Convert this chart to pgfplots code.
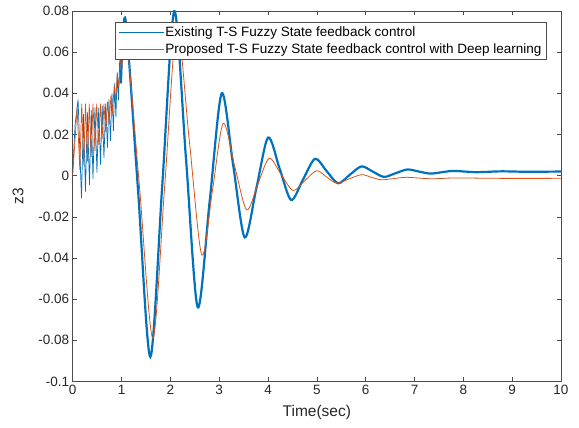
\documentclass[border=0pt]{standalone}
\usepackage{pgfplots}
\pgfplotsset{compat=1.18}
\usepackage{fontspec}
\setmainfont{Liberation Sans}
\definecolor{mblue}{rgb}{0,0.447,0.741}
\definecolor{morange}{rgb}{0.85,0.325,0.098}
\definecolor{axgray}{rgb}{0.3,0.3,0.3}
\definecolor{txt}{rgb}{0.15,0.15,0.15}
\begin{document}
\begin{tikzpicture}
\begin{axis}[name=ax, scale only axis, width=488.3pt, height=370.5pt,
  xmin=0, xmax=10, ymin=-0.1, ymax=0.08,
  xtick={0,1,2,3,4,5,6,7,8,9,10},
  xticklabels={0,1,2,3,4,5,6,7,8,9,10},
  ytick={-0.1,-0.08,-0.06,-0.04,-0.02,0,0.02,0.04,0.06,0.08},
  yticklabels={-0.1,-0.08,-0.06,-0.04,-0.02,0,0.02,0.04,0.06,0.08},
  tick align=inside, major tick length=4.3pt,
  axis line style={axgray, line width=0.6pt},
  tick style={axgray, line width=0.6pt},
  ticklabel style={font=\fontsize{13.5}{15}\selectfont, text=txt},
  xlabel={Time(sec)}, ylabel={z3},
  label style={font=\fontsize{15.5}{17}\selectfont, text=txt},
  xlabel style={at={(axis description cs:0.5,-0.083)}, anchor=center},
  ylabel style={at={(axis description cs:-0.112,0.5)}, anchor=center},
  legend style={at={(axis description cs:0.0866,0.971)}, anchor=north west,
    draw=axgray, line width=0.5pt, font=\fontsize{13.5}{15}\selectfont,
    inner xsep=3pt, inner ysep=3pt, row sep=3pt,
    nodes={inner sep=1.5pt}},
  legend cell align=left,
  legend image code/.code={\draw[#1] (0pt,0pt) -- (45pt,0pt);},
]
% Existing: early high-frequency part
\addplot[mblue, line width=0.7pt] coordinates {
(0.00,0.002) (0.05,0.025) (0.11,0.037) (0.18,-0.011) (0.22,0.030)
(0.262,-0.0077) (0.30,0.031) (0.344,-0.0045) (0.38,0.032) (0.415,-0.0015)
(0.456,0.033) (0.497,0.0015) (0.533,0.033) (0.569,0.0054) (0.604,0.034)
(0.64,0.0087) (0.676,0.035) (0.712,0.0136) (0.742,0.037) (0.773,0.0169)
(0.804,0.040) (0.834,0.0218) (0.86,0.045) (0.885,0.0284) (0.911,0.050)
(0.936,0.0366) (0.962,0.056) (0.988,0.0448)
};
\addlegendentry{Existing T-S Fuzzy State feedback control}
% Proposed: early high-frequency part
\addplot[morange, line width=0.7pt] coordinates {
(0.00,0.000) (0.09,0.033) (0.145,0.003) (0.185,0.035) (0.226,0.005)
(0.262,0.035) (0.303,0.007) (0.339,0.035) (0.38,0.009) (0.415,0.035)
(0.456,0.012) (0.492,0.035) (0.533,0.015) (0.569,0.035) (0.604,0.018)
(0.64,0.035) (0.676,0.021) (0.712,0.036) (0.747,0.025) (0.783,0.039)
(0.814,0.030) (0.85,0.044) (0.88,0.036) (0.916,0.050) (0.947,0.043)
(0.983,0.057) (1.008,0.052)
};
\addlegendentry{Proposed T-S Fuzzy State feedback control with Deep learning}
% Existing: damped oscillation
\addplot[mblue, line width=2.2pt, smooth, forget plot] coordinates {
(0.988,0.0448) (1.08,0.076) (1.335,-0.006) (1.59,-0.088) (1.836,-0.004)
(2.081,0.080) (2.321,0.008) (2.561,-0.064) (2.807,-0.012) (3.052,0.040)
(3.287,0.005) (3.522,-0.030) (3.762,-0.006) (4.002,0.0185) (4.238,0.0034)
(4.473,-0.0118) (4.718,-0.0018) (4.963,0.0082) (5.198,0.0023) (5.433,-0.0037)
(5.673,0.0004) (5.914,0.0045) (6.144,0.002) (6.374,-0.0006) (6.614,0.0012)
(6.854,0.003) (7.089,0.002) (7.324,0.0010) (7.569,0.0017) (7.804,0.0023)
(8.264,0.0017) (8.775,0.0021) (9.286,0.0019) (10,0.002)
};
% Proposed: damped oscillation
\addplot[morange, line width=0.8pt, smooth, forget plot] coordinates {
(1.008,0.052) (1.09,0.070) (1.366,-0.005) (1.642,-0.079) (1.887,-0.004)
(2.132,0.072) (2.388,0.017) (2.643,-0.0385) (2.863,-0.007) (3.083,0.0254)
(3.323,0.004) (3.563,-0.0166) (3.793,-0.004) (4.023,0.0084) (4.268,0.0006)
(4.513,-0.0072) (4.754,-0.0024) (4.994,0.0024) (5.198,-0.0006) (5.403,-0.0036)
(5.658,-0.0016) (5.914,0.0005) (6.118,-0.0008) (6.322,-0.002) (6.578,-0.0014)
(6.833,-0.0008) (7.344,-0.0015) (7.855,-0.0011) (8.673,-0.0013) (10,-0.0013)
};
\end{axis}
\pgfresetboundingbox
\path[use as bounding box] ([shift={(-72.7pt,-46.5pt)}]ax.south west) rectangle ([shift={(18pt,11pt)}]ax.north east);
\end{tikzpicture}
\end{document}
